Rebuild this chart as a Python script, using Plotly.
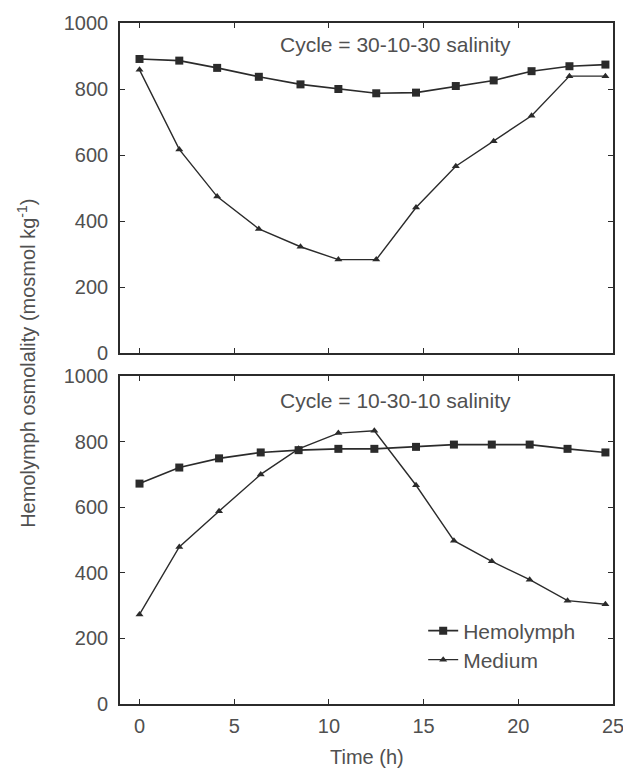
import plotly.graph_objects as go

# ---- data ----
time_top = [0, 2.1, 4.1, 6.3, 8.5, 10.5, 12.5, 14.6, 16.7, 18.7, 20.7, 22.7, 24.6]
hemo_top = [891, 886, 864, 837, 814, 800, 787, 789, 809, 826, 854, 869, 874]
medium_top = [858, 617, 474, 376, 322, 283, 283, 441, 566, 642, 719, 839, 839]

time_bot = [0, 2.1, 4.2, 6.4, 8.4, 10.5, 12.4, 14.6, 16.6, 18.6, 20.6, 22.6, 24.6]
hemo_bot = [672, 721, 749, 767, 774, 778, 778, 784, 791, 791, 791, 778, 767]
medium_bot = [273, 479, 588, 700, 778, 826, 833, 667, 498, 435, 379, 315, 304]

x_ticks = [0, 5, 10, 15, 20, 25]
y_ticks = [0, 200, 400, 600, 800, 1000]
panel_labels = ["Cycle = 30-10-30 salinity", "Cycle = 10-30-10 salinity"]

FONT = "Liberation Sans, Arial, Helvetica, sans-serif"
TXT = "#505050"
LINE = "#2b2b2b"
FS = 20
FS2 = 21

fig = go.Figure()

def add_pair(t, hemo, med, xa, ya, show):
    fig.add_trace(go.Scatter(
        x=t, y=hemo, mode="lines+markers", name="Hemolymph",
        line=dict(color=LINE, width=1.6),
        marker=dict(symbol="square", size=8, color=LINE),
        xaxis=xa, yaxis=ya, showlegend=show, legend="legend"))
    fig.add_trace(go.Scatter(
        x=t, y=med, mode="lines+markers", name="Medium",
        line=dict(color=LINE, width=1.4),
        marker=dict(symbol="triangle-up", size=7, color=LINE),
        xaxis=xa, yaxis=ya, showlegend=show, legend="legend2"))

add_pair(time_top, hemo_top, medium_top, "x", "y", False)
add_pair(time_bot, hemo_bot, medium_bot, "x2", "y2", True)

ax_common = dict(
    showline=True, linecolor=LINE, linewidth=1.6, mirror="ticks",
    ticks="inside", ticklen=5, tickwidth=1.2, tickcolor=LINE,
    showgrid=False, zeroline=False, automargin=False,
    ticklabeloverflow="allow",
    tickfont=dict(family=FONT, size=FS, color=TXT),
)

x_range = [-1.03, 25]
y_range = [0, 1000]

fig.update_layout(
    width=623, height=768,
    margin=dict(l=120, r=10, t=23, b=64),
    paper_bgcolor="white", plot_bgcolor="white",
    font=dict(family=FONT, size=FS, color=TXT),
    xaxis=dict(ax_common, domain=[0, 1], range=x_range, tickvals=x_ticks,
               showticklabels=False, anchor="y"),
    yaxis=dict(ax_common, domain=[0.5154, 1], range=y_range, tickvals=y_ticks,
               anchor="x", ticklabelstandoff=6),
    xaxis2=dict(ax_common, domain=[0, 1], range=x_range, tickvals=x_ticks,
                anchor="y2", ticklabelstandoff=3),
    yaxis2=dict(ax_common, domain=[0, 0.4816], range=y_range, tickvals=y_ticks,
                anchor="x2", ticklabelstandoff=6),
    legend=dict(x=0.615, y=0.1072, xanchor="left", yanchor="middle",
                bgcolor="rgba(0,0,0,0)",
                font=dict(family=FONT, size=FS2, color=TXT), itemwidth=30),
    legend2=dict(x=0.615, y=0.0646, xanchor="left", yanchor="middle",
                 bgcolor="rgba(0,0,0,0)",
                 font=dict(family=FONT, size=FS2, color=TXT), itemwidth=30),
)

fig.add_annotation(text=panel_labels[0], x=13.5, y=935, xref="x", yref="y",
                   showarrow=False, font=dict(family=FONT, size=FS2, color=TXT))
fig.add_annotation(text=panel_labels[1], x=13.5, y=925, xref="x2", yref="y2",
                   showarrow=False, font=dict(family=FONT, size=FS2, color=TXT))
fig.add_annotation(text="Time (h)", x=0.5, y=-0.078, xref="paper", yref="paper",
                   showarrow=False, xanchor="center", yanchor="middle",
                   font=dict(family=FONT, size=FS, color=TXT))
fig.add_annotation(text="Hemolymph osmolality (mosmol kg<sup>-1</sup>)",
                   x=-0.19, y=0.5, xref="paper", yref="paper", textangle=-90,
                   showarrow=False, xanchor="center", yanchor="middle",
                   font=dict(family=FONT, size=FS, color=TXT))

fig.write_html("out.html")
